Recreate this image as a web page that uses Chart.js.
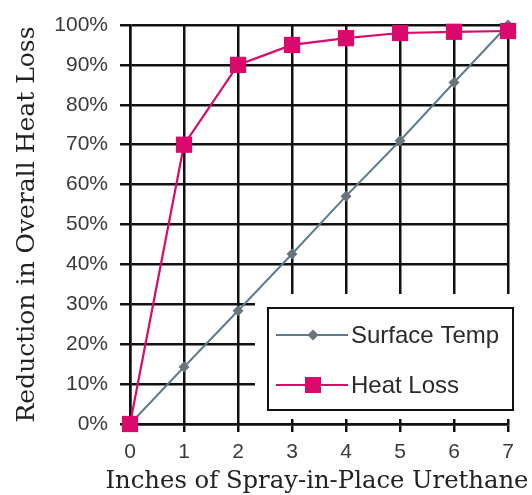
<!DOCTYPE html>
<html>
<head>
<meta charset="utf-8">
<script src="https://cdn.jsdelivr.net/npm/chart.js@4/dist/chart.umd.min.js"></script>
<style>
html,body{margin:0;padding:0;background:#fff;}
#wrap{width:532px;height:495px;}
</style>
</head>
<body>
<div id="wrap"><canvas id="c" width="532" height="495"></canvas></div>
<script>
const inches = [0, 1, 2, 3, 4, 5, 6, 7];
const surfaceTemp = [0, 14.3, 28.4, 42.6, 57.1, 71.0, 85.6, 100];
const heatLoss = [0, 70, 90, 95, 96.7, 98, 98.3, 98.5];
const yTickValues = [0, 10, 20, 30, 40, 50, 60, 70, 80, 90, 100];
const xTitle = 'Inches of Spray-in-Place Urethane';
const yTitle = 'Reduction in Overall Heat Loss';
const seriesNames = ['Surface Temp', 'Heat Loss'];

const PINK = '#da0a6c';
const GREYLINE = '#5d7c8a';
const GREYPT = '#6a747c';

const toXY = (ys) => inches.map((x, i) => ({x: x, y: ys[i]}));

const legendPlugin = {
  id: 'boxLegend',
  afterDatasetsDraw(chart) {
    const ctx = chart.ctx;
    ctx.save();
    ctx.fillStyle = '#fff';
    ctx.fillRect(255, 294, 270, 125);
    ctx.strokeStyle = '#111';
    ctx.lineWidth = 2;
    ctx.strokeRect(268, 308, 245, 102);
    const rows = [
      {ds: chart.data.datasets[1], y: 335},
      {ds: chart.data.datasets[0], y: 385}
    ];
    rows.forEach(r => {
      ctx.strokeStyle = r.ds.borderColor;
      ctx.lineWidth = 2;
      ctx.beginPath();
      ctx.moveTo(276, r.y);
      ctx.lineTo(348, r.y);
      ctx.stroke();
      ctx.fillStyle = r.ds.pointBackgroundColor;
      if (r.ds.pointStyle === 'rect') {
        ctx.fillRect(305, r.y - 8, 16, 16);
      } else {
        ctx.beginPath();
        ctx.moveTo(313, r.y - 5.5);
        ctx.lineTo(318.5, r.y);
        ctx.lineTo(313, r.y + 5.5);
        ctx.lineTo(307.5, r.y);
        ctx.closePath();
        ctx.fill();
      }
      ctx.fillStyle = '#2a2a2a';
      ctx.font = '24px "Liberation Sans", Arial, sans-serif';
      ctx.textBaseline = 'middle';
      ctx.textAlign = 'left';
      ctx.fillText(r.ds.label, 351, r.y + 1);
    });
    ctx.restore();
  },
  afterDraw(chart) {
    // x-axis title: wider than the plot area in the reference, so drawn here
    const ctx = chart.ctx;
    const area = chart.chartArea;
    ctx.save();
    ctx.fillStyle = '#222';
    ctx.font = '24.3px "DejaVu Serif", serif';
    ctx.textAlign = 'center';
    ctx.textBaseline = 'alphabetic';
    ctx.fillText(xTitle, (area.left + area.right) / 2 - 2, 488);
    ctx.restore();
  }
};

new Chart(document.getElementById('c'), {
  type: 'line',
  data: {
    datasets: [
      {
        label: seriesNames[1],
        data: toXY(heatLoss),
        borderColor: PINK,
        backgroundColor: PINK,
        pointBackgroundColor: PINK,
        pointBorderColor: PINK,
        pointStyle: 'rect',
        pointRadius: 11.5,
        pointBorderWidth: 0,
        borderWidth: 2.2,
        tension: 0,
        clip: false,
        order: 0
      },
      {
        label: seriesNames[0],
        data: toXY(surfaceTemp),
        borderColor: GREYLINE,
        backgroundColor: GREYPT,
        pointBackgroundColor: GREYPT,
        pointBorderColor: GREYPT,
        pointStyle: 'rectRot',
        pointRadius: 5.5,
        pointBorderWidth: 0,
        borderWidth: 2,
        tension: 0,
        clip: false,
        order: 1
      }
    ]
  },
  options: {
    responsive: false,
    animation: false,
    devicePixelRatio: 1,
    layout: {padding: {left: 0, top: 25, right: 24, bottom: 0}},
    plugins: {legend: {display: false}, tooltip: {enabled: false}},
    elements: {line: {fill: false}},
    scales: {
      x: {
        type: 'linear',
        min: 0, max: 7,
        afterFit(s) { s.height = 71; },
        afterBuildTicks(s) { s.ticks = inches.map(v => ({value: v})); },
        ticks: {
          font: {family: '"Liberation Sans", Arial, sans-serif', size: 21},
          color: '#3a3a3a',
          padding: 8,
          maxRotation: 0
        },
        grid: {color: '#111', lineWidth: 2.5, tickLength: 8, drawTicks: true},
        border: {color: '#111', width: 2.5},
        title: {display: false}
      },
      y: {
        type: 'linear',
        min: 0, max: 100,
        afterFit(s) { s.width = 130; },
        afterBuildTicks(s) { s.ticks = yTickValues.map(v => ({value: v})); },
        ticks: {
          font: {family: '"Liberation Sans", Arial, sans-serif', size: 21},
          color: '#3a3a3a',
          padding: 12,
          callback: v => v + '%'
        },
        grid: {color: '#111', lineWidth: 2.5, tickLength: 10},
        border: {color: '#111', width: 2.5},
        title: {
          display: true,
          text: yTitle,
          font: {family: '"DejaVu Serif", serif', size: 25},
          color: '#222',
          padding: {top: 12, bottom: 0}
        }
      }
    }
  },
  plugins: [legendPlugin]
});
</script>
</body>
</html>
